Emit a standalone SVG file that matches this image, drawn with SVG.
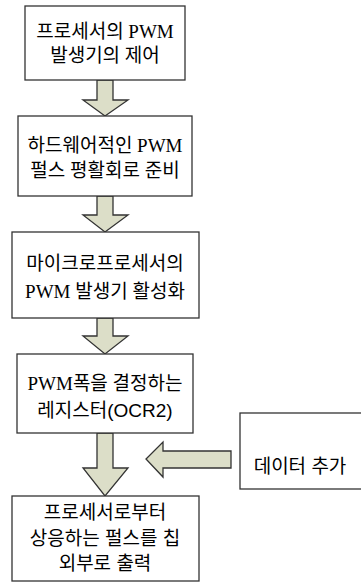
<svg xmlns="http://www.w3.org/2000/svg" width="361" height="582" viewBox="0 0 361 582">
<style>
.box{fill:#fff;stroke:#333;stroke-width:1.3}
.arr{fill:#dcdec8;stroke:#333;stroke-width:1.3;stroke-linejoin:miter}
.t{font-family:"Liberation Serif","Noto Sans CJK KR",serif;font-size:19px;fill:#000;text-anchor:middle}
.s{font-family:"Liberation Sans","Noto Sans CJK KR",sans-serif;font-size:19px;fill:#000;text-anchor:middle}
</style>
<rect width="361" height="582" fill="#fff"/>
<g id="connectors">
<polygon class="arr" points="97,80 113,80 113,100 128,100 105,116 83,100 97,100"/>
<polygon class="arr" points="97,196 113,196 113,215 128,215 105,232 83,215 97,215"/>
<polygon class="arr" points="97,318 113,318 113,336 128,336 105,354 83,336 97,336"/>
<polygon class="arr" points="97,433 113,433 113,468 128,468 105,496 83,468 97,468"/>
<polygon class="arr" points="231,451 231,468 163,468 163,477 146,459 163,442 163,451"/>
</g>
<g id="n1">
<rect class="box" x="25" y="6" width="160" height="74"/>
<text class="t" x="105" y="38">프로세서의 PWM</text>
<text class="t" x="105" y="62">발생기의 제어</text>
</g>
<g id="n2">
<rect class="box" x="18" y="116" width="174" height="80"/>
<text class="t" x="105" y="152">하드웨어적인 PWM</text>
<text class="t" x="105" y="177">펄스 평활회로 준비</text>
</g>
<g id="n3">
<rect class="box" x="12" y="232" width="187" height="86"/>
<text class="t" x="105" y="270">마이크로프로세서의</text>
<text class="t" x="105" y="298">PWM 발생기 활성화</text>
</g>
<g id="n4">
<rect class="box" x="17" y="354" width="176" height="79"/>
<text class="t" x="105" y="390">PWM폭을 결정하는</text>
<text class="s" x="105" y="417">레지스터(OCR2)</text>
</g>
<g id="n5">
<rect class="box" x="12" y="496" width="187" height="85"/>
<text class="s" x="105" y="519">프로세서로부터</text>
<text class="s" x="105" y="545">상응하는 펄스를 칩</text>
<text class="s" x="105" y="570">외부로 출력</text>
</g>
<g id="n6">
<rect class="box" x="240" y="413" width="125" height="76"/>
<text class="s" x="300" y="473">데이터 추가</text>
</g>
</svg>
